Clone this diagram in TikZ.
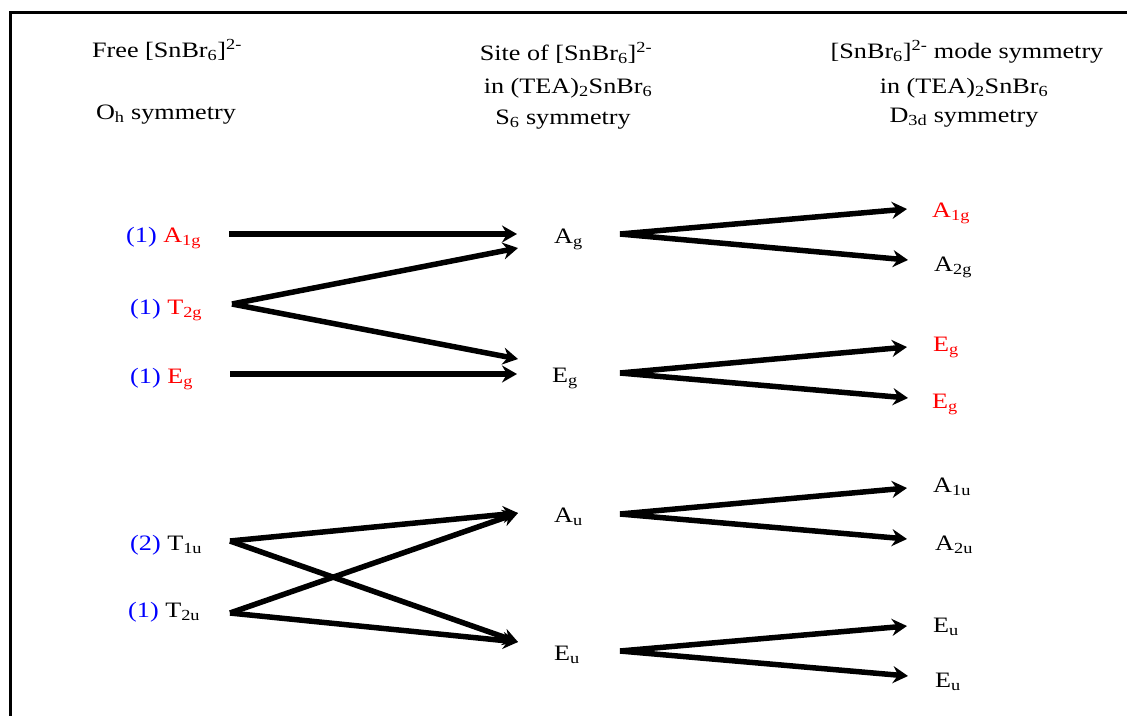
\documentclass[tikz,border=0pt]{standalone}
\usepackage{fontspec}
\setmainfont{Liberation Serif}[FakeStretch=1.19]
\usetikzlibrary{arrows.meta}
\definecolor{lblue}{RGB}{0,0,255}
\definecolor{lred}{RGB}{255,0,0}
\begin{document}
\begin{tikzpicture}[x=1pt,y=-1pt,
  txt/.style={inner sep=0pt,font=\fontsize{22}{25}\selectfont},
  hdr/.style={txt,anchor=base},
  lab/.style={txt,anchor=base west},
  arr/.style={line width=5.5pt,-{Stealth[length=15pt,width=17pt,inset=5pt]}},
  frame/.style={line width=3pt}]
\useasboundingbox (0,0) rectangle (1127,715);
\fill[white] (0,0) rectangle (1127,715);
% frame
\draw[frame] (10,716) -- (10,12) -- (1128,12);
% headers
\node[hdr] (h1a) at (167,57) {Free [SnBr\textsubscript{6}]\textsuperscript{2-}};
\node[hdr] (h1b) at (166,119) {O\textsubscript{h} symmetry};
\node[hdr] (h2a) at (566,60) {Site of [SnBr\textsubscript{6}]\textsuperscript{2-}};
\node[hdr] (h2b) at (568,93) {in (TEA)\textsubscript{2}SnBr\textsubscript{6}};
\node[hdr] (h2c) at (563,124) {S\textsubscript{6} symmetry};
\node[hdr] (h3a) at (967,58) {[SnBr\textsubscript{6}]\textsuperscript{2-} mode symmetry};
\node[hdr] (h3b) at (964,93) {in (TEA)\textsubscript{2}SnBr\textsubscript{6}};
\node[hdr] (h3c) at (964,122) {D\textsubscript{3d} symmetry};
% left labels
\node[lab] (lA1g) at (126,242) {\textcolor{lblue}{(1)} \textcolor{lred}{A\textsubscript{1g}}};
\node[lab] (lT2g) at (130,314) {\textcolor{lblue}{(1)} \textcolor{lred}{T\textsubscript{2g}}};
\node[lab] (lEg) at (130,383) {\textcolor{lblue}{(1)} \textcolor{lred}{E\textsubscript{g}}};
\node[lab] (lT1u) at (130,550) {\textcolor{lblue}{(2)} T\textsubscript{1u}};
\node[lab] (lT2u) at (128,617) {\textcolor{lblue}{(1)} T\textsubscript{2u}};
% middle labels
\node[lab] (mAg) at (554,243) {A\textsubscript{g}};
\node[lab] (mEg) at (552,382) {E\textsubscript{g}};
\node[lab] (mAu) at (554,522) {A\textsubscript{u}};
\node[lab] (mEu) at (554,660) {E\textsubscript{u}};
% right labels
\node[lab,text=lred] (rA1g) at (932,217) {A\textsubscript{1g}};
\node[lab] (rA2g) at (934,271) {A\textsubscript{2g}};
\node[lab,text=lred] (rEg1) at (933,351) {E\textsubscript{g}};
\node[lab,text=lred] (rEg2) at (932,408) {E\textsubscript{g}};
\node[lab] (rA1u) at (933,492) {A\textsubscript{1u}};
\node[lab] (rA2u) at (935,550) {A\textsubscript{2u}};
\node[lab] (rEu1) at (933,632) {E\textsubscript{u}};
\node[lab] (rEu2) at (935,687) {E\textsubscript{u}};
% ports
\coordinate (sA1g) at (229,234);
\coordinate (sT2g) at (232,304);
\coordinate (sEg) at (230,374);
\coordinate (sT1u) at (230,541);
\coordinate (sT2u) at (230,613);
\coordinate (iAg1) at (517,234);
\coordinate (iAg2) at (518,248);
\coordinate (iEg1) at (518,359);
\coordinate (iEg2) at (517,374);
\coordinate (iAu) at (518,513);
\coordinate (iEu) at (518,642);
\coordinate (oAg) at (620,234);
\coordinate (oEg) at (620,373);
\coordinate (oAu) at (620,514);
\coordinate (oEu) at (620,651);
\coordinate (tA1g) at (907,209);
\coordinate (tA2g) at (908,260);
\coordinate (tEg1) at (907,347);
\coordinate (tEg2) at (908,398);
\coordinate (tA1u) at (907,488);
\coordinate (tA2u) at (907,539);
\coordinate (tEu1) at (907,626);
\coordinate (tEu2) at (908,676);
% arrows left -> middle
\draw[arr] (sA1g) -- (iAg1);
\draw[arr] (sT2g) -- (iAg2);
\draw[arr] (sT2g) -- (iEg1);
\draw[arr] (sEg) -- (iEg2);
\draw[arr] (sT1u) -- (iAu);
\draw[arr] (sT1u) -- (iEu);
\draw[arr] (sT2u) -- (iAu);
\draw[arr] (sT2u) -- (iEu);
% arrows middle -> right
\draw[arr] (oAg) -- (tA1g);
\draw[arr] (oAg) -- (tA2g);
\draw[arr] (oEg) -- (tEg1);
\draw[arr] (oEg) -- (tEg2);
\draw[arr] (oAu) -- (tA1u);
\draw[arr] (oAu) -- (tA2u);
\draw[arr] (oEu) -- (tEu1);
\draw[arr] (oEu) -- (tEu2);
\end{tikzpicture}
\end{document}
